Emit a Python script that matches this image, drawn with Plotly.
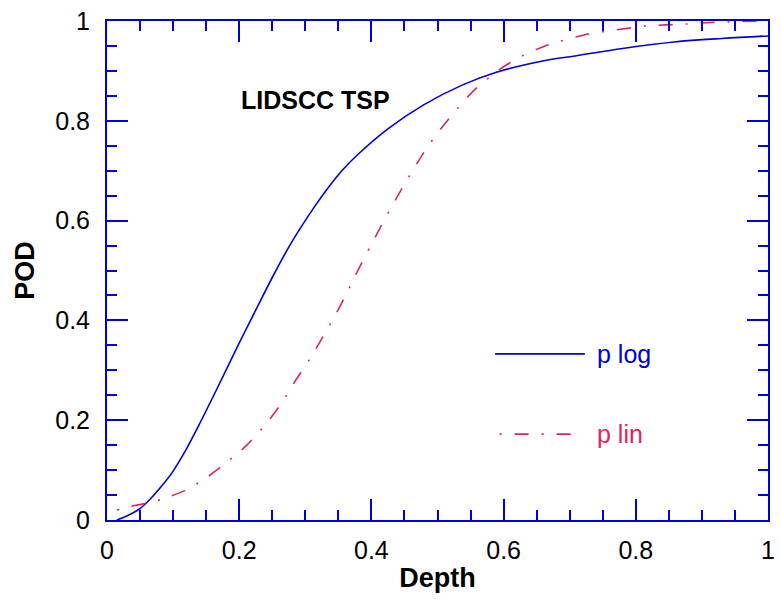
import plotly.graph_objects as go

# POD curves versus flaw depth
depth_log = [0.015, 0.03, 0.049, 0.064, 0.084, 0.099, 0.12, 0.139, 0.169, 0.199,
             0.229, 0.254, 0.279, 0.314, 0.334, 0.356, 0.379, 0.424, 0.479, 0.538,
             0.588, 0.663, 0.708, 0.78, 0.858, 0.93, 1.0]
pod_log = [0.0, 0.008, 0.022, 0.040, 0.070, 0.096, 0.142, 0.190, 0.270, 0.352,
           0.431, 0.496, 0.556, 0.628, 0.665, 0.701, 0.732, 0.783, 0.832, 0.872,
           0.897, 0.921, 0.930, 0.945, 0.958, 0.965, 0.970]

depth_lin = [0.015, 0.022, 0.042, 0.062, 0.084, 0.119, 0.149, 0.179, 0.2115, 0.2415,
             0.264, 0.286, 0.306, 0.324, 0.344, 0.361, 0.376, 0.409, 0.4435, 0.4835,
             0.516, 0.553, 0.593, 0.628, 0.661, 0.723, 0.753, 0.817, 0.877, 0.913, 1.0]
pod_lin = [0.020, 0.022, 0.029, 0.034, 0.042, 0.060, 0.0835, 0.1135, 0.150, 0.194,
           0.234, 0.281, 0.321, 0.361, 0.407, 0.450, 0.491, 0.575, 0.658, 0.745,
           0.802, 0.858, 0.902, 0.930, 0.949, 0.9726, 0.979, 0.990, 0.994, 0.997, 1.0]

tick_vals = [0, 0.2, 0.4, 0.6, 0.8, 1]
tick_text = ["0", "0.2", "0.4", "0.6", "0.8", "1"]

BLUE = "#0000DD"
PINK = "#E0245E"
DASHDOT = "2px,13px,14px,13px"
FONT = "Liberation Sans, Arial, sans-serif"

fig = go.Figure()
fig.add_trace(go.Scatter(x=depth_log, y=pod_log, mode="lines", name="p log",
                         line=dict(color=BLUE, width=1.6, shape="spline", smoothing=1.0)))
fig.add_trace(go.Scatter(x=depth_lin, y=pod_lin, mode="lines", name="p lin",
                         line=dict(color=PINK, width=1.6, dash=DASHDOT,
                                   shape="spline", smoothing=0.8)))

axis_common = dict(
    range=[0, 1], showgrid=False, zeroline=False,
    showline=True, linecolor=BLUE, linewidth=2, mirror="ticks",
    ticks="inside", ticklen=21, tickwidth=2, tickcolor=BLUE,
    tickvals=tick_vals, ticktext=tick_text,
    tickfont=dict(family=FONT, size=25, color="black"),
    minor=dict(dtick=0.05, ticks="inside", ticklen=10, tickwidth=2, tickcolor=BLUE),
)

fig.update_xaxes(**axis_common, ticklabelstandoff=7,
                 title=dict(text="Depth", standoff=5,
                            font=dict(family=FONT, size=27, color="black", weight="bold")))
fig.update_yaxes(**axis_common, ticklabelstandoff=10,
                 title=dict(text="POD", standoff=13,
                            font=dict(family=FONT, size=27, color="black", weight="bold")))

# legend keys drawn inside the plot area
fig.add_shape(type="line", xref="paper", yref="paper", x0=0.587, x1=0.723, y0=0.333, y1=0.333,
              line=dict(color=BLUE, width=1.6))
fig.add_shape(type="line", xref="paper", yref="paper", x0=0.594, x1=0.704, y0=0.172, y1=0.172,
              line=dict(color=PINK, width=1.6, dash=DASHDOT))
fig.add_annotation(text="p log", xref="paper", yref="paper", x=0.738, y=0.333,
                   xanchor="left", yanchor="middle", showarrow=False,
                   font=dict(family=FONT, size=25, color=BLUE))
fig.add_annotation(text="p lin", xref="paper", yref="paper", x=0.738, y=0.172,
                   xanchor="left", yanchor="middle", showarrow=False,
                   font=dict(family=FONT, size=25, color=PINK))
fig.add_annotation(text="LIDSCC TSP", xref="paper", yref="paper", x=0.199, y=0.842,
                   xanchor="left", yanchor="middle", showarrow=False,
                   font=dict(family=FONT, size=25, color="black", weight="bold"))

fig.update_layout(
    width=781, height=599,
    margin=dict(l=107, r=6, t=21, b=79),
    paper_bgcolor="white", plot_bgcolor="white",
    showlegend=False,
)

fig.write_html("out.html")
